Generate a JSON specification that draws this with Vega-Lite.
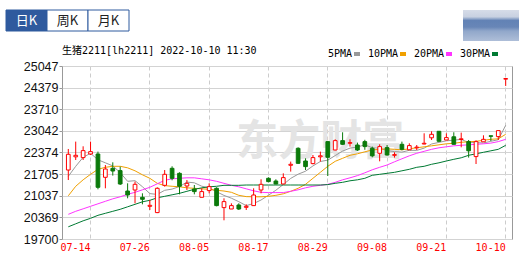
{
  "$schema": "https://vega.github.io/schema/vega-lite/v6.json",
  "background": "white",
  "padding": {"left": 5, "top": 9, "right": 0, "bottom": 0},
  "config": {"view": {"stroke": null}},
  "spacing": 4,
  "vconcat": [
    {
      "spacing": 333,
      "hconcat": [
        {
          "width": 123,
          "height": 21,
          "data": {"values": [
            {"tab": "日K", "sel": true},
            {"tab": "周K", "sel": false},
            {"tab": "月K", "sel": false}
          ]},
          "encoding": {
            "x": {"field": "tab", "type": "nominal", "sort": null, "axis": null,
                  "scale": {"paddingInner": 0, "paddingOuter": 0}}
          },
          "layer": [
            {
              "mark": {"type": "rect", "stroke": "#2f5a9e", "strokeWidth": 1},
              "encoding": {
                "fill": {"condition": {"test": "datum.sel", "value": "#2f5a9e"}, "value": "white"}
              }
            },
            {
              "mark": {"type": "text", "fontSize": 13, "font": "Noto Sans CJK SC", "baseline": "middle"},
              "encoding": {
                "text": {"field": "tab"},
                "color": {"condition": {"test": "datum.sel", "value": "white"}, "value": "#222222"}
              }
            }
          ]
        },
        {
          "width": 58,
          "height": 31,
          "data": {"values": [{"logo": "blurred"}]},
          "mark": {
            "type": "rect",
            "color": {
              "gradient": "linear", "x1": 0, "y1": 0, "x2": 0, "y2": 1,
              "stops": [
                {"offset": 0, "color": "#d6dce8"},
                {"offset": 0.22, "color": "#c8d1e1"},
                {"offset": 0.34, "color": "#6282b5"},
                {"offset": 0.55, "color": "#6886b7"},
                {"offset": 0.68, "color": "#91a7ca"},
                {"offset": 1, "color": "#aebed8"}
              ]
            }
          },
          "encoding": {}
        }
      ]
    },
    {
      "spacing": 0,
      "hconcat": [
        {
          "width": 5,
          "height": 173,
          "data": {"values": [{}]},
          "mark": {"type": "text", "text": ""},
          "encoding": {}
        },
        {
          "width": 450,
          "height": 173,
          "view": {"stroke": "#999999"},
          "title": {
            "text": "生猪2211[lh2211] 2022-10-10 11:30",
            "anchor": "start", "frame": "group", "fontSize": 10, "fontWeight": "normal",
            "font": "DejaVu Sans Mono, Noto Sans CJK SC", "color": "#000000", "offset": 4
          },
          "data": {"values": [
            {"d":"07-11","o":21832,"h":22482,"l":21523,"c":22318,"5PMA":21638,"10PMA":21035,"20PMA":20463,"30PMA":20077},
            {"d":"07-12","o":22240,"h":22710,"l":22142,"c":22287,"5PMA":21947,"10PMA":21329,"20PMA":20556,"30PMA":20169},
            {"d":"07-13","o":22216,"h":22565,"l":22142,"c":22432,"5PMA":22225,"10PMA":21529,"20PMA":20633,"30PMA":20262},
            {"d":"07-14","o":22327,"h":22710,"l":22296,"c":22401,"5PMA":22349,"10PMA":21699,"20PMA":20710,"30PMA":20339},
            {"d":"07-15","o":22327,"h":22401,"l":21236,"c":21298,"5PMA":22148,"10PMA":21854,"20PMA":20788,"30PMA":20432},
            {"d":"07-18","o":21607,"h":21987,"l":21267,"c":21863,"5PMA":22055,"10PMA":21916,"20PMA":20865,"30PMA":20494},
            {"d":"07-19","o":21885,"h":22070,"l":21659,"c":21801,"5PMA":21959,"10PMA":21947,"20PMA":20942,"30PMA":20556},
            {"d":"07-20","o":21814,"h":21937,"l":21369,"c":21400,"5PMA":21752,"10PMA":21947,"20PMA":21004,"30PMA":20618},
            {"d":"07-21","o":21183,"h":21421,"l":20958,"c":21060,"5PMA":21483,"10PMA":21900,"20PMA":21081,"30PMA":20695},
            {"d":"07-22","o":21214,"h":21474,"l":20803,"c":21390,"5PMA":21502,"10PMA":21808,"20PMA":21143,"30PMA":20772},
            {"d":"07-25","o":20989,"h":21112,"l":20772,"c":20927,"5PMA":21316,"10PMA":21684,"20PMA":21220,"30PMA":20849},
            {"d":"07-26","o":20710,"h":20905,"l":20596,"c":20741,"5PMA":21103,"10PMA":21576,"20PMA":21298,"30PMA":20896},
            {"d":"07-27","o":20516,"h":21298,"l":20500,"c":21267,"5PMA":21078,"10PMA":21421,"20PMA":21406,"30PMA":20973},
            {"d":"07-28","o":21359,"h":21832,"l":21319,"c":21699,"5PMA":21205,"10PMA":21350,"20PMA":21514,"30PMA":21019},
            {"d":"07-29","o":21885,"h":21947,"l":21514,"c":21576,"5PMA":21242,"10PMA":21329,"20PMA":21560,"30PMA":21066},
            {"d":"08-01","o":21730,"h":21761,"l":21081,"c":21329,"5PMA":21322,"10PMA":21313,"20PMA":21576,"30PMA":21112},
            {"d":"08-02","o":21338,"h":21523,"l":21214,"c":21421,"5PMA":21458,"10PMA":21282,"20PMA":21591,"30PMA":21174},
            {"d":"08-03","o":21245,"h":21369,"l":21081,"c":21165,"5PMA":21437,"10PMA":21267,"20PMA":21591,"30PMA":21236},
            {"d":"08-04","o":20989,"h":21267,"l":20989,"c":21165,"5PMA":21332,"10PMA":21251,"20PMA":21560,"30PMA":21282},
            {"d":"08-05","o":21196,"h":21421,"l":21112,"c":21319,"5PMA":21279,"10PMA":21236,"20PMA":21529,"30PMA":21313},
            {"d":"08-08","o":21267,"h":21298,"l":20710,"c":20732,"5PMA":21162,"10PMA":21205,"20PMA":21483,"30PMA":21329},
            {"d":"08-09","o":20670,"h":20958,"l":20278,"c":20856,"5PMA":21047,"10PMA":21183,"20PMA":21421,"30PMA":21359},
            {"d":"08-10","o":20627,"h":20803,"l":20627,"c":20732,"5PMA":20961,"10PMA":21143,"20PMA":21359,"30PMA":21359},
            {"d":"08-11","o":20751,"h":20803,"l":20596,"c":20627,"5PMA":20853,"10PMA":21050,"20PMA":21313,"30PMA":21359},
            {"d":"08-12","o":20679,"h":20772,"l":20596,"c":20710,"5PMA":20732,"10PMA":21010,"20PMA":21251,"30PMA":21369},
            {"d":"08-15","o":20732,"h":21267,"l":20732,"c":21060,"5PMA":20797,"10PMA":21004,"20PMA":21189,"30PMA":21369},
            {"d":"08-16","o":21214,"h":21545,"l":21112,"c":21390,"5PMA":20905,"10PMA":21004,"20PMA":21143,"30PMA":21369},
            {"d":"08-17","o":21576,"h":21607,"l":21452,"c":21474,"5PMA":21053,"10PMA":21019,"20PMA":21134,"30PMA":21369},
            {"d":"08-18","o":21492,"h":21545,"l":21390,"c":21400,"5PMA":21208,"10PMA":21050,"20PMA":21134,"30PMA":21369},
            {"d":"08-19","o":21400,"h":21730,"l":21400,"c":21597,"5PMA":21384,"10PMA":21097,"20PMA":21134,"30PMA":21369},
            {"d":"08-22","o":21978,"h":22092,"l":21783,"c":22009,"5PMA":21573,"10PMA":21174,"20PMA":21174,"30PMA":21369},
            {"d":"08-23","o":22503,"h":22534,"l":22024,"c":22039,"5PMA":21703,"10PMA":21267,"20PMA":21220,"30PMA":21369},
            {"d":"08-24","o":22111,"h":22194,"l":21832,"c":21937,"5PMA":21795,"10PMA":21390,"20PMA":21282,"30PMA":21369},
            {"d":"08-25","o":22030,"h":22296,"l":22009,"c":22216,"5PMA":21959,"10PMA":21576,"20PMA":21329,"30PMA":21369},
            {"d":"08-26","o":22240,"h":22401,"l":22092,"c":22271,"5PMA":22095,"10PMA":21761,"20PMA":21359,"30PMA":21369},
            {"d":"08-29","o":22710,"h":22720,"l":21647,"c":22225,"5PMA":22138,"10PMA":21947,"20PMA":21390,"30PMA":21381},
            {"d":"08-30","o":22451,"h":22781,"l":22441,"c":22741,"5PMA":22278,"10PMA":22101,"20PMA":21452,"30PMA":21421},
            {"d":"08-31","o":22741,"h":22998,"l":22611,"c":22627,"5PMA":22417,"10PMA":22194,"20PMA":21529,"30PMA":21452},
            {"d":"09-01","o":22658,"h":22781,"l":22556,"c":22679,"5PMA":22509,"10PMA":22287,"20PMA":21591,"30PMA":21499},
            {"d":"09-02","o":22605,"h":22679,"l":22420,"c":22451,"5PMA":22543,"10PMA":22333,"20PMA":21659,"30PMA":21529},
            {"d":"09-05","o":22710,"h":22766,"l":22457,"c":22556,"5PMA":22611,"10PMA":22395,"20PMA":21746,"30PMA":21576},
            {"d":"09-06","o":22503,"h":22556,"l":22225,"c":22271,"5PMA":22522,"10PMA":22451,"20PMA":21839,"30PMA":21669},
            {"d":"09-07","o":22349,"h":22627,"l":22101,"c":22556,"5PMA":22506,"10PMA":22472,"20PMA":21916,"30PMA":21699},
            {"d":"09-08","o":22525,"h":22605,"l":22278,"c":22296,"5PMA":22432,"10PMA":22488,"20PMA":21987,"30PMA":21730},
            {"d":"09-09","o":22287,"h":22380,"l":22216,"c":22308,"5PMA":22401,"10PMA":22472,"20PMA":22086,"30PMA":21761},
            {"d":"09-13","o":22627,"h":22710,"l":22441,"c":22472,"5PMA":22386,"10PMA":22457,"20PMA":22179,"30PMA":21808},
            {"d":"09-14","o":22457,"h":22658,"l":22451,"c":22587,"5PMA":22441,"10PMA":22488,"20PMA":22271,"30PMA":21854},
            {"d":"09-15","o":22519,"h":22605,"l":22451,"c":22540,"5PMA":22438,"10PMA":22519,"20PMA":22349,"30PMA":21916},
            {"d":"09-16","o":22636,"h":22967,"l":22627,"c":22658,"5PMA":22509,"10PMA":22550,"20PMA":22410,"30PMA":21947},
            {"d":"09-19","o":22828,"h":23029,"l":22760,"c":22936,"5PMA":22636,"10PMA":22580,"20PMA":22472,"30PMA":22009},
            {"d":"09-20","o":23029,"h":23038,"l":22704,"c":22720,"5PMA":22686,"10PMA":22611,"20PMA":22519,"30PMA":22055},
            {"d":"09-21","o":22760,"h":22967,"l":22760,"c":22834,"5PMA":22735,"10PMA":22642,"20PMA":22550,"30PMA":22111},
            {"d":"09-22","o":22859,"h":22998,"l":22611,"c":22627,"5PMA":22754,"10PMA":22658,"20PMA":22580,"30PMA":22163},
            {"d":"09-23","o":22775,"h":22988,"l":22534,"c":22797,"5PMA":22781,"10PMA":22689,"20PMA":22596,"30PMA":22210},
            {"d":"09-26","o":22710,"h":22760,"l":22216,"c":22426,"5PMA":22679,"10PMA":22704,"20PMA":22611,"30PMA":22287},
            {"d":"09-27","o":22247,"h":22750,"l":22018,"c":22710,"5PMA":22679,"10PMA":22720,"20PMA":22627,"30PMA":22333},
            {"d":"09-28","o":22704,"h":22905,"l":22704,"c":22781,"5PMA":22667,"10PMA":22750,"20PMA":22642,"30PMA":22380},
            {"d":"09-29","o":22890,"h":22890,"l":22729,"c":22874,"5PMA":22720,"10PMA":22781,"20PMA":22664,"30PMA":22426},
            {"d":"09-30","o":22865,"h":23050,"l":22760,"c":23050,"5PMA":22769,"10PMA":22797,"20PMA":22710,"30PMA":22472},
            {"d":"10-10","o":24640,"h":24660,"l":24430,"c":24660,"5PMA":23214,"10PMA":22936,"20PMA":22781,"30PMA":22596}
          ]},
          "layer": [
            {
              "transform": [{"filter": "datum.d == '08-26'"}],
              "mark": {"type": "text", "font": "Noto Sans CJK SC", "fontWeight": "bold", "fontSize": 42, "color": "#e4e4e4", "baseline": "alphabetic", "align": "center"},
              "encoding": {
                "x": {"field": "d", "type": "ordinal", "sort": "ascending"},
                "y": {"datum": 22300, "type": "quantitative"},
                "text": {"value": "东方财富"}
              }
            },
            {
              "transform": [{"fold": ["5PMA", "10PMA", "20PMA", "30PMA"], "as": ["ma", "val"]}],
              "mark": {"type": "line", "strokeWidth": 1},
              "encoding": {
                "x": {"field": "d", "type": "ordinal", "sort": "ascending"},
                "y": {"field": "val", "type": "quantitative"},
                "color": {
                  "field": "ma", "type": "nominal",
                  "scale": {"domain": ["5PMA", "10PMA", "20PMA", "30PMA"], "range": ["#999999", "#f0a000", "#ff33ff", "#007a33"]},
                  "legend": {
                    "orient": "none", "legendX": 346, "legendY": 39, "direction": "horizontal", "title": null,
                    "symbolType": "stroke", "symbolSize": 36, "symbolStrokeWidth": 4, "symbolOpacity": 1,
                    "labelFont": "DejaVu Sans Mono", "labelFontSize": 10, "labelColor": "#000000",
                    "labelAlign": "right", "labelOffset": -10, "symbolOffset": 0, "columnPadding": -1, "padding": 0,
                    "encode": {"symbols": {"update": {"strokeWidth": {"value": 4}, "strokeCap": {"value": "butt"}, "opacity": {"value": 1}}}}
                  }
                }
              }
            },
            {
              "mark": {"type": "rule", "strokeWidth": 1},
              "encoding": {
                "x": {"field": "d", "type": "ordinal", "sort": "ascending"},
                "y": {"field": "l", "type": "quantitative"},
                "y2": {"field": "h"},
                "color": {"condition": {"test": "datum.c >= datum.o", "value": "#ff0000"}, "value": "#0b7a0b"}
              }
            },
            {
              "mark": {"type": "bar", "strokeWidth": 1, "width": {"band": 0.5}},
              "encoding": {
                "x": {"field": "d", "type": "ordinal", "sort": "ascending",
                      "scale": {"paddingInner": 0, "paddingOuter": 0.35},
                      "axis": {"values": ["07-14", "07-26", "08-05", "08-17", "08-29", "09-08", "09-21", "10-10"],
                               "labelColor": "#ff0000", "labelFont": "DejaVu Sans Mono", "labelFontSize": 10,
                               "labelAngle": 0, "ticks": false, "domain": false, "grid": true,
                               "gridDash": [4, 3], "gridColor": "#cccccc", "labelPadding": 8, "title": null}},
                "y": {"field": "o", "type": "quantitative",
                      "scale": {"domain": [19700, 25047], "nice": false, "zero": false},
                      "axis": {"values": [19700, 20369, 21037, 21705, 22374, 23042, 23710, 24379, 25047],
                               "tickCount": 20,
                               "format": "d", "labelFont": "Liberation Sans", "labelFontSize": 12.5, "labelColor": "#111111",
                               "labelOverlap": false, "tickSize": 3, "tickColor": "#999999", "domain": false,
                               "grid": true, "gridColor": "#d3d3d3",
                               "labelPadding": 1, "minExtent": 50, "title": null}},
                "y2": {"field": "c"},
                "fill": {"condition": {"test": "datum.c >= datum.o", "value": "#ffffff"}, "value": "#0b7a0b"},
                "stroke": {"condition": {"test": "datum.c >= datum.o", "value": "#ff0000"}, "value": "#0b7a0b"}
              }
            }
          ]
        }
      ]
    }
  ]
}
